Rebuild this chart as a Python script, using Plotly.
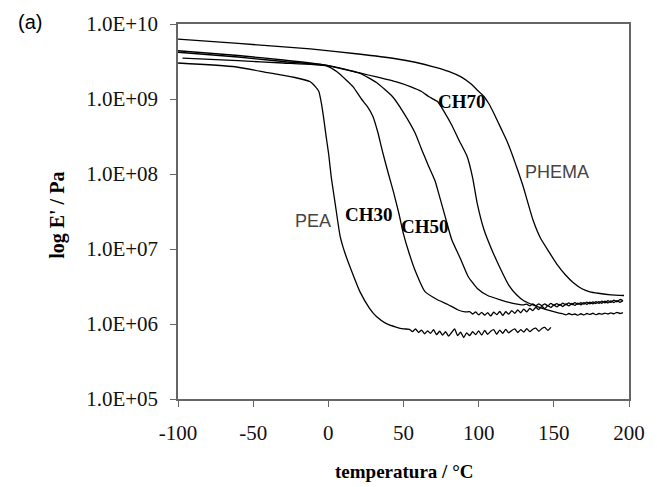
import plotly.graph_objects as go

# ---------------- data (temperature in °C, storage modulus E' in Pa) ----------------
T_pea = [-100, -62, -40, -23, -12, -8.5, -6.3, -4.5, -3, -1.5, 0.2, 2, 4.5, 7.8, 11, 16.5, 21, 27.4, 32, 38.3, 45, 50,
         54, 56, 58, 60, 62, 64, 66, 68, 70, 72, 74, 76, 78, 80, 82, 84, 86, 88, 90, 92, 94, 96, 98, 100,
         102, 104, 106, 108, 110, 112, 114, 116, 118, 120, 122, 124, 126, 128, 130, 132, 134, 136, 138, 140,
         142, 144, 146, 148]
E_pea = [3.02e9, 2.69e9, 2.24e9, 1.95e9, 1.70e9, 1.45e9, 1.26e9, 8.5e8, 5.4e8, 3.2e8, 1.86e8, 8.9e7, 4.1e7, 1.5e7,
         8.9e6, 4.5e6, 2.7e6, 1.62e6, 1.26e6, 1.02e6, 9.1e5, 8.6e5,
         8.5e5, 7.9e5, 8.6e5, 7.7e5, 8.3e5, 7.4e5, 8.1e5, 7.5e5, 8.4e5, 7.2e5, 8.0e5, 7.1e5, 7.9e5, 6.9e5,
         7.7e5, 8.6e5, 7.0e5, 7.8e5, 6.6e5, 7.6e5, 7.0e5, 7.9e5, 7.2e5, 8.1e5, 7.1e5, 8.2e5, 7.3e5, 8.0e5,
         8.4e5, 7.3e5, 8.3e5, 7.5e5, 8.5e5, 7.6e5, 8.2e5, 8.6e5, 7.7e5, 8.4e5, 7.8e5, 8.7e5, 7.9e5, 8.5e5,
         8.8e5, 8.0e5, 8.7e5, 9.0e5, 8.2e5, 9.0e5]

T_ch30 = [-97, -60, -30, -1, 6, 12, 16.5, 22, 26, 29.6, 33, 36, 40, 43.5, 46.9, 50, 53.5, 58, 64.3, 72, 79.5, 86, 91,
          94, 96, 98, 100, 102, 104, 106, 108, 110, 112, 114, 116, 118, 120, 122, 124, 126, 128, 130, 132, 134,
          136, 138, 140, 142, 144, 146, 148, 150, 152, 154, 156, 158, 160, 162, 164, 166, 168, 170, 172, 174,
          176, 178, 180, 182, 184, 186, 188, 190, 192, 194, 196]
E_ch30 = [3.5e9, 3.24e9, 3.02e9, 2.75e9, 2.29e9, 1.78e9, 1.45e9, 1.0e9, 7.9e8, 5.9e8, 3.55e8, 2.0e8, 1.0e8, 5.6e7,
          3.0e7, 1.58e7, 9.1e6, 5.0e6, 2.7e6, 2.14e6, 1.82e6, 1.55e6, 1.45e6,
          1.46e6, 1.36e6, 1.45e6, 1.32e6, 1.43e6, 1.31e6, 1.42e6, 1.28e6, 1.44e6, 1.33e6, 1.47e6, 1.30e6,
          1.46e6, 1.35e6, 1.51e6, 1.39e6, 1.54e6, 1.41e6, 1.58e6, 1.45e6, 1.62e6, 1.51e6, 1.67e6, 1.56e6,
          1.72e6, 1.60e6, 1.76e6, 1.66e6, 1.79e6, 1.69e6, 1.82e6, 1.71e6, 1.85e6, 1.74e6, 1.88e6, 1.77e6,
          1.90e6, 1.80e6, 1.93e6, 1.83e6, 1.96e6, 1.85e6, 1.99e6, 1.88e6, 2.02e6, 1.91e6, 2.05e6, 1.95e6,
          2.08e6, 1.98e6, 2.12e6, 2.05e6]

T_ch50 = [-100, -60, -30, -1, 20.7, 32, 42.6, 50, 57.8, 62, 66.5, 70.9, 74, 77.4, 82, 88.3, 93, 99.1, 106, 114.4,
          122, 130, 132, 134, 136, 138, 140, 142, 144, 146, 148, 150, 152, 154, 156, 158, 160, 162, 164, 166,
          168, 170, 172, 174, 176, 178, 180, 182, 184, 186, 188, 190, 192, 194, 196]
E_ch50 = [4.2e9, 3.63e9, 3.16e9, 2.81e9, 2.21e9, 1.66e9, 1.08e9, 6.6e8, 3.5e8, 2.14e8, 1.3e8, 8.2e7, 5.0e7, 2.85e7,
          1.35e7, 7.1e6, 4.3e6, 2.98e6, 2.4e6, 2.1e6, 1.9e6, 1.8e6,
          1.84e6, 1.74e6, 1.85e6, 1.75e6, 1.86e6, 1.76e6, 1.85e6, 1.75e6, 1.88e6, 1.78e6, 1.87e6, 1.77e6,
          1.90e6, 1.80e6, 1.91e6, 1.81e6, 1.93e6, 1.83e6, 1.92e6, 1.84e6, 1.96e6, 1.86e6, 1.97e6, 1.87e6,
          1.99e6, 1.89e6, 2.01e6, 1.91e6, 2.03e6, 1.93e6, 2.05e6, 1.95e6, 2.04e6]

T_ch70 = [-100, -60, -30, -1, 20, 44.8, 55, 62, 67, 72.8, 77, 81.8, 87, 92.4, 96, 99, 103.5, 109, 114.4, 120, 125.2,
          130, 136.1, 145, 153.5, 156, 158, 160, 162, 164, 166, 168, 170, 172, 174, 176, 178, 180, 182, 184, 186,
          188, 190, 192, 194, 196]
E_ch70 = [4.4e9, 3.8e9, 3.31e9, 2.81e9, 2.24e9, 1.70e9, 1.45e9, 1.26e9, 1.07e9, 9.2e8, 6.8e8, 4.6e8, 2.8e8,
          1.7e8, 8.9e7, 4.1e7, 1.82e7, 9.5e6, 5.5e6, 3.3e6, 2.45e6, 2.04e6, 1.80e6, 1.55e6, 1.40e6,
          1.37e6, 1.32e6, 1.38e6, 1.33e6, 1.36e6, 1.31e6, 1.37e6, 1.32e6, 1.38e6, 1.34e6, 1.39e6, 1.33e6,
          1.38e6, 1.35e6, 1.40e6, 1.36e6, 1.41e6, 1.37e6, 1.43e6, 1.38e6, 1.42e6]

T_phema = [-100, -60, -12, 20, 44.8, 57.8, 70, 80, 88.3, 95, 99, 103.5, 107, 110, 115, 119, 123, 126, 129.6, 136.1,
           141, 147, 152, 157.8, 163, 168.7, 174, 179.6, 188, 196.7]
E_phema = [6.3e9, 5.5e9, 4.66e9, 3.98e9, 3.44e9, 3.09e9, 2.69e9, 2.34e9, 1.97e9, 1.58e9, 1.32e9, 1.08e9, 8.5e8,
           6.5e8, 4.0e8, 2.7e8, 1.66e8, 1.12e8, 6.8e7, 2.45e7, 1.41e7, 9.0e6, 6.3e6, 4.5e6, 3.55e6, 2.95e6,
           2.69e6, 2.57e6, 2.45e6, 2.40e6]

series = [("PEA", T_pea, E_pea), ("CH30", T_ch30, E_ch30), ("CH50", T_ch50, E_ch50),
          ("CH70", T_ch70, E_ch70), ("PHEMA", T_phema, E_phema)]

# curve labels: (text, T, log10 E', font family, bold?, colour)
labels = [("PEA", -10.2, 7.37, "Liberation Sans", False, "#444444"),
          ("CH30", 27.2, 7.46, "Liberation Serif", True, "#000000"),
          ("CH50", 64.2, 7.30, "Liberation Serif", True, "#000000"),
          ("CH70", 89.1, 8.97, "Liberation Serif", True, "#000000"),
          ("PHEMA", 151.8, 8.03, "Liberation Sans", False, "#444444")]

y_tickvals = [1e5, 1e6, 1e7, 1e8, 1e9, 1e10]
y_ticktext = ["1.0E+05", "1.0E+06", "1.0E+07", "1.0E+08", "1.0E+09", "1.0E+10"]
x_tickvals = [-100, -50, 0, 50, 100, 150, 200]
x_ticktext = ["-100", "-50", "0", "50", "100", "150", "200"]

# ---------------- figure ----------------
fig = go.Figure()
for name, t, e in series:
    fig.add_trace(go.Scatter(x=t, y=e, mode="lines", name=name,
                             line=dict(color="black", width=1.3, shape="spline", smoothing=0.5),
                             showlegend=False, hoverinfo="skip"))

for text, tx, ly, fam, bold, col in labels:
    fig.add_annotation(x=tx, y=ly, xref="x", yref="y", text=f"<b>{text}</b>" if bold else text,
                       showarrow=False, xanchor="center", yanchor="middle",
                       font=dict(family=fam, size=19 if bold else 18, color=col))

fig.add_annotation(x=-0.267, y=0.49, xref="paper", yref="paper", text="<b>log E' / Pa</b>",
                   textangle=-90, showarrow=False, xanchor="center", yanchor="middle",
                   font=dict(family="Liberation Serif", size=20, color="black"))
fig.add_annotation(x=0.5, y=-0.192, xref="paper", yref="paper", text="<b>temperatura / °C</b>",
                   showarrow=False, xanchor="center", yanchor="middle",
                   font=dict(family="Liberation Serif", size=19, color="black"))
fig.add_annotation(x=-0.328, y=1.005, xref="paper", yref="paper", text="(a)", showarrow=False,
                   xanchor="center", yanchor="middle",
                   font=dict(family="Liberation Sans", size=20, color="black"))

axis_common = dict(showgrid=False, zeroline=False, showline=True, linecolor="#666666", linewidth=1.5,
                   mirror=True, ticks="outside", ticklen=6, tickwidth=1.2, tickcolor="#666666",
                   tickfont=dict(family="Liberation Serif", size=21, color="#111111"))

fig.update_xaxes(range=[-100, 200], tickvals=x_tickvals, ticktext=x_ticktext, ticklabelstandoff=8,
                 **axis_common)
fig.update_yaxes(type="log", range=[5, 10], tickvals=y_tickvals, ticktext=y_ticktext,
                 ticklabelstandoff=8, **axis_common)

fig.update_layout(width=657, height=487, margin=dict(l=178, r=19, t=18, b=88),
                  paper_bgcolor="white", plot_bgcolor="white")

fig.write_html("out.html")
